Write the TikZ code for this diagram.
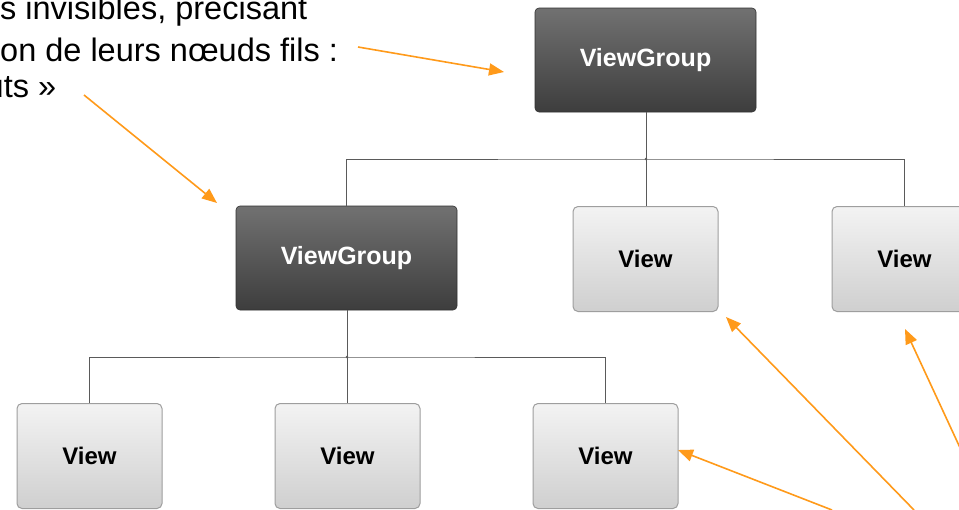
\documentclass[tikz,border=0pt]{standalone}
\usepackage{fontspec}
\setmainfont{Liberation Sans}
\usetikzlibrary{arrows.meta,calc}
\definecolor{orangeA}{HTML}{FF9A1A}
\definecolor{darkTop}{HTML}{717171}
\definecolor{darkBot}{HTML}{3D3D3D}
\definecolor{lightTop}{HTML}{F3F3F3}
\definecolor{lightBot}{HTML}{CFCFCF}
\definecolor{lineGray}{HTML}{5A5A5A}
\tikzset{
  groupbox/.style={rectangle, rounded corners=4pt, minimum width=221pt, minimum height=104pt,
    top color=darkTop, bottom color=darkBot, draw=darkBot!80!black, line width=0.6pt,
    text=white, font=\fontsize{25}{28}\selectfont\bfseries, inner sep=0pt},
  viewbox/.style={rectangle, rounded corners=5pt, minimum width=145pt, minimum height=105pt,
    top color=lightTop, bottom color=lightBot, draw=black!38, line width=1pt,
    text=black, font=\fontsize{24}{28}\selectfont\bfseries, inner sep=0pt},
  treeline/.style={draw=lineGray, line width=0.9pt},
  callout/.style={draw=orangeA, line width=1.6pt, -{Triangle[length=15pt,width=12pt]}},
  caption/.style={anchor=base west, inner sep=0pt, font=\fontsize{32.5}{40}\selectfont, text=black}
}
\begin{document}
\begin{tikzpicture}[x=1pt,y=-1pt]
\useasboundingbox[fill=white] (0,0) rectangle (959,509);

% caption text (clipped on the left)
\node[caption] (c1) at (0,19) {s invisibles, precisant};
\node[caption] (c2) at (0,61) {on de leurs nœuds fils :};
\node[caption] (c3) at (-14.5,97) {uts »};

% boxes
\node[groupbox] (tg) at (645.5,60) {ViewGroup};
\node[groupbox] (mg) at (346.5,258) {ViewGroup};
\node[viewbox] (mv) at (645.5,259) {View};
\node[viewbox] (rv) at (904.5,259) {View};
\node[viewbox] (b1) at (89.5,456) {View};
\node[viewbox] (b2) at (347.5,456) {View};
\node[viewbox] (b3) at (605.5,456) {View};

% tree connectors
\coordinate (j1) at (646,159);
\coordinate (j2) at (347,357);
\path[treeline] (tg.south -| j1) -- (j1);
\path[treeline] (mg.north) |- (j1) -| (rv.north);
\path[treeline] (j1) -- (mv.north -| j1);
\fill[lineGray] (j1) circle (1.3pt);
\path[treeline] (mg.south -| j2) -- (j2);
\path[treeline] (b1.north) |- (j2) -| (b3.north);
\path[treeline] (j2) -- (b2.north -| j2);
\fill[lineGray] (j2) circle (1.3pt);

% orange callout arrows
\coordinate (s1) at (358,47);
\coordinate (t1) at (504,72);
\coordinate (s2) at (84,95);
\coordinate (t2) at (217,203);
\coordinate (s3) at (832,510);
\coordinate (t3) at (678,450);
\coordinate (s4) at (914,510);
\coordinate (t4) at (726,317);
\coordinate (s5) at (962,452);
\coordinate (t5) at (905,329);
\draw[callout] (s1) -- (t1);
\draw[callout] (s2) -- (t2);
\draw[callout] (s3) -- (t3);
\draw[callout] (s4) -- (t4);
\draw[callout] (s5) -- (t5);
\end{tikzpicture}
\end{document}
